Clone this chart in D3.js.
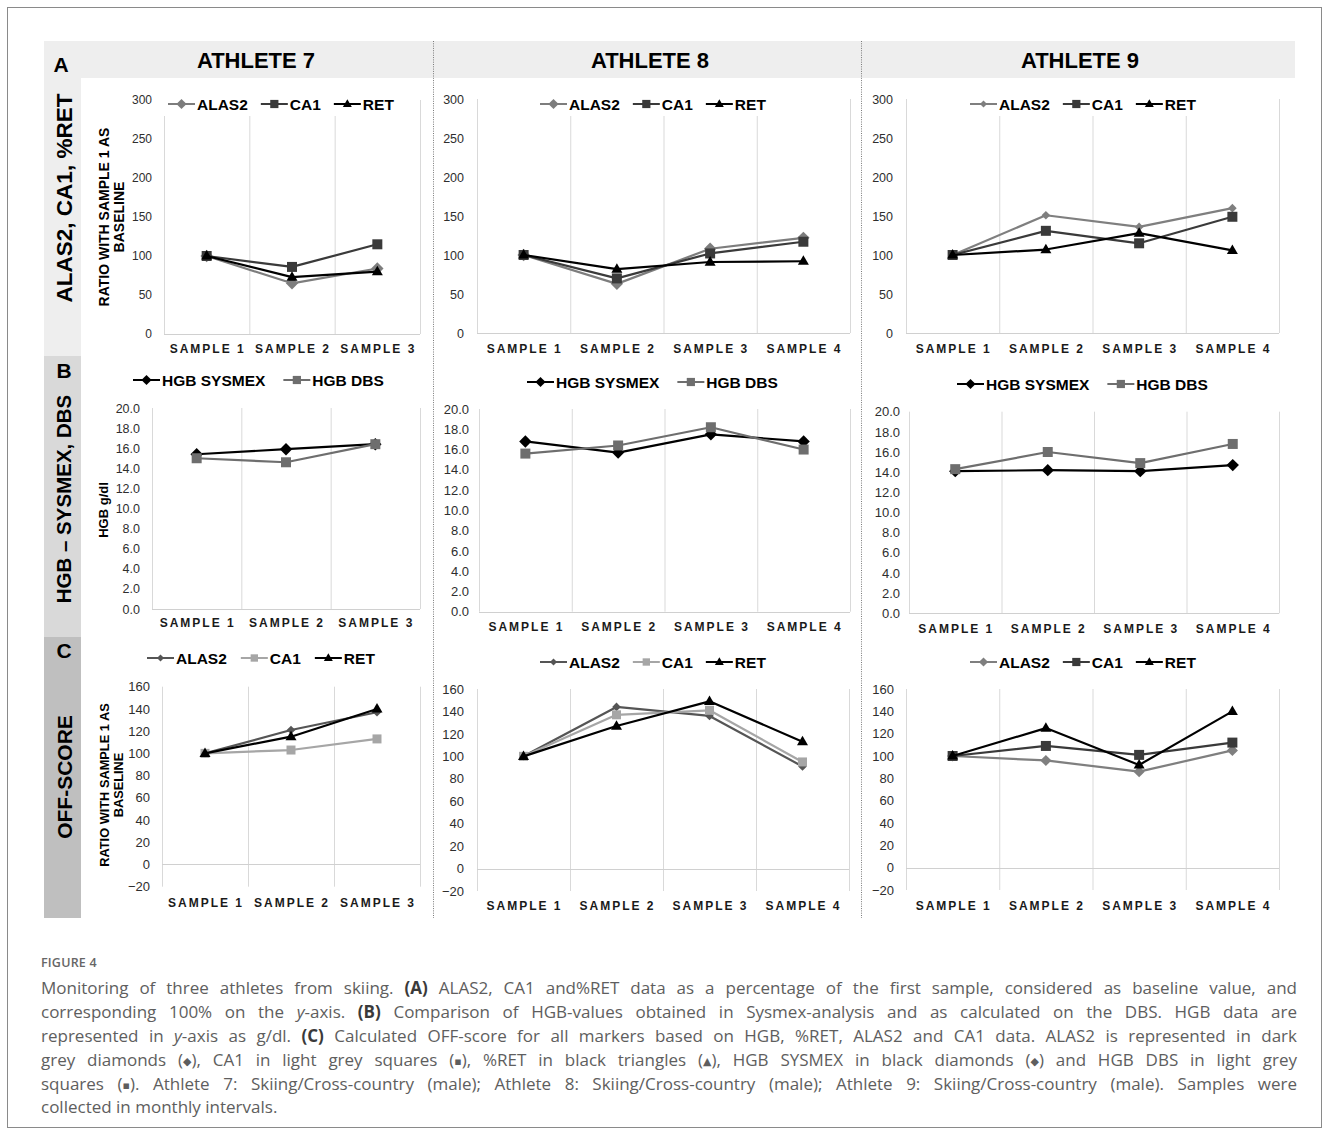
<!DOCTYPE html>
<html><head><meta charset="utf-8">
<script src="https://cdn.jsdelivr.net/npm/d3@7"></script>
<style>
body{margin:0;background:#fff;}
#wrap{position:relative;width:1329px;height:1135px;overflow:hidden;}
#wrap svg{position:absolute;left:0;top:0;}
.capline{position:absolute;left:41px;width:1256px;height:24px;line-height:24px;font-family:"Open Sans",sans-serif;font-size:17px;color:#5e5e5e;text-align:justify;text-align-last:justify;}
.capline.last{text-align-last:left;}
.capline b{font-weight:700;color:#3a3a3a;}
.fig{position:absolute;left:41px;top:954px;font-family:"Open Sans",sans-serif;font-size:12.5px;font-weight:600;color:#666;letter-spacing:0.2px;}
.sym{display:inline-block;white-space:nowrap;}
.sym i{font-style:normal;font-family:"DejaVu Sans",sans-serif;font-size:11px;vertical-align:1px;}
</style>
</head><body><div id="wrap"></div>
<script>
// ---------- DATA ----------
const samples3 = ["SAMPLE 1","SAMPLE 2","SAMPLE 3"];
const samples4 = ["SAMPLE 1","SAMPLE 2","SAMPLE 3","SAMPLE 4"];
const athletes = ["ATHLETE 7","ATHLETE 8","ATHLETE 9"];
const rowLetters = ["A","B","C"];
const rowTitles = ["ALAS2, CA1, %RET","HGB \u2013 SYSMEX, DBS","OFF-SCORE"];
const ticksRatio = [0,50,100,150,200,250,300];
const ticksHgb = [0,2,4,6,8,10,12,14,16,18,20];
const ticksOff = [-20,0,20,40,60,80,100,120,140,160];
const legendA = ["ALAS2","CA1","RET"];
const legendB = ["HGB SYSMEX","HGB DBS"];

// Row A: ALAS2, CA1, %RET (ratio with sample 1 as baseline)
const a7_ALAS2 = [100,65,84];
const a7_CA1   = [100,86,115];
const a7_RET   = [100,73,80];
const a8_ALAS2 = [100,63,108,122];
const a8_CA1   = [100,70,102,117];
const a8_RET   = [100,82,91,92];
const a9_ALAS2 = [100,151,136,160];
const a9_CA1   = [100,131,115,149];
const a9_RET   = [100,107,128,106];
// Row B: HGB g/dl
const b7_SYSMEX = [15.4,15.9,16.4];
const b7_DBS    = [15.0,14.6,16.4];
const b8_SYSMEX = [16.8,15.7,17.5,16.8];
const b8_DBS    = [15.6,16.4,18.2,16.0];
const b9_SYSMEX = [14.1,14.2,14.1,14.7];
const b9_DBS    = [14.3,16.0,14.9,16.8];
// Row C: OFF-score
const c7_ALAS2 = [100,121,137];
const c7_CA1   = [100,103,113];
const c7_RET   = [100,115,140];
const c8_ALAS2 = [100,144,136,91];
const c8_CA1   = [100,137,141,95];
const c8_RET   = [100,127,149,113];
const c9_ALAS2 = [100,96,86,105];
const c9_CA1   = [100,109,101,112];
const c9_RET   = [100,125,92,140];

const DIA = '<span class="sym">(<i>\u25C6</i>)</span>';
const SQ  = '<span class="sym">(<i>\u25AA</i>)</span>';
const TRI = '<span class="sym">(<i>\u25B2</i>)</span>';
const captionLines = [
 'Monitoring of three athletes from skiing. <b>(A)</b> ALAS2, CA1 and%RET data as a percentage of the first sample, considered as baseline value, and',
 'corresponding 100% on the <i>y</i>-axis. <b>(B)</b> Comparison of HGB-values obtained in Sysmex-analysis and as calculated on the DBS. HGB data are',
 'represented in <i>y</i>-axis as g/dl. <b>(C)</b> Calculated OFF-score for all markers based on HGB, %RET, ALAS2 and CA1 data. ALAS2 is represented in dark',
 'grey diamonds ' + DIA + ', CA1 in light grey squares ' + SQ + ', %RET in black triangles ' + TRI + ', HGB SYSMEX in black diamonds ' + DIA + ' and HGB DBS in light grey',
 'squares ' + SQ + '. Athlete 7: Skiing/Cross-country (male); Athlete 8: Skiing/Cross-country (male); Athlete 9: Skiing/Cross-country (male). Samples were',
 'collected in monthly intervals.'
];

// ---------- STYLES / LAYOUT ----------
const ST = {
  alasA:   {color:"#7d7d7d", shape:"diamond", size:10},
  alasA9:  {color:"#7f7f7f", shape:"diamond", size:7},
  ca1Dark: {color:"#3a3a3a", shape:"square",  size:10},
  ret:     {color:"#000000", shape:"triangle",size:11},
  sysmex:  {color:"#000000", shape:"diamond", size:10},
  dbs:     {color:"#6e6e6e", shape:"square",  size:10},
  alasC:   {color:"#555555", shape:"diamond", size:7},
  alasC9:  {color:"#7f7f7f", shape:"diamond", size:9},
  ca1Light:{color:"#a6a6a6", shape:"square",  size:9}
};
const fmtInt = d => d3.format("d")(d);
const fmt1 = d => d3.format(".1f")(d);

const panels = [
 {cats:samples3, dom:[0,300], ticks:ticksRatio, fmt:fmtInt, names:legendA, vals:[a7_ALAS2,a7_CA1,a7_RET], st:[ST.alasA,ST.ca1Dark,ST.ret],
  x0:164,x1:420,yTop:100,yBot:334,tick:12,pad:12,xlabY:349,leg:[168,104],gap:13,
  ytitle:{lines:["RATIO WITH SAMPLE 1 AS","BASELINE"],x:[104,119],cy:217,size:14}},
 {cats:samples4, dom:[0,300], ticks:ticksRatio, fmt:fmtInt, names:legendA, vals:[a8_ALAS2,a8_CA1,a8_RET], st:[ST.alasA,ST.ca1Dark,ST.ret],
  x0:477,x1:850,yTop:99,yBot:333,tick:12.5,pad:13,xlabY:349,leg:[540,104],gap:13},
 {cats:samples4, dom:[0,300], ticks:ticksRatio, fmt:fmtInt, names:legendA, vals:[a9_ALAS2,a9_CA1,a9_RET], st:[ST.alasA9,ST.ca1Dark,ST.ret],
  x0:906,x1:1279,yTop:99,yBot:333,tick:12.5,pad:13,xlabY:349,leg:[970,104],gap:13},
 {cats:samples3, dom:[0,20], ticks:ticksHgb, fmt:fmt1, names:legendB, vals:[b7_SYSMEX,b7_DBS], st:[ST.sysmex,ST.dbs],
  x0:152,x1:420,yTop:408,yBot:609,tick:12.5,pad:12,xlabY:623,leg:[133,380],gap:18,
  ytitle:{lines:["HGB g/dl"],x:[103],cy:510,size:13}},
 {cats:samples4, dom:[0,20], ticks:ticksHgb, fmt:fmt1, names:legendB, vals:[b8_SYSMEX,b8_DBS], st:[ST.sysmex,ST.dbs],
  x0:479,x1:850,yTop:409,yBot:611.7,tick:13,pad:10,xlabY:626.7,leg:[527,382],gap:18},
 {cats:samples4, dom:[0,20], ticks:ticksHgb, fmt:fmt1, names:legendB, vals:[b9_SYSMEX,b9_DBS], st:[ST.sysmex,ST.dbs],
  x0:909,x1:1279,yTop:411.7,yBot:613.3,tick:13,pad:9,xlabY:629,leg:[957,384],gap:18},
 {cats:samples3, dom:[-20,160], ticks:ticksOff, fmt:fmtInt, names:legendA, vals:[c7_ALAS2,c7_CA1,c7_RET], st:[ST.alasC,ST.ca1Light,ST.ret],
  x0:162,x1:420,yTop:686.7,yBot:886.7,tick:13,pad:12,xlabY:903,leg:[147,658],gap:14,
  ytitle:{lines:["RATIO WITH SAMPLE 1 AS","BASELINE"],x:[104,118],cy:785,size:12.8}},
 {cats:samples4, dom:[-20,160], ticks:ticksOff, fmt:fmtInt, names:legendA, vals:[c8_ALAS2,c8_CA1,c8_RET], st:[ST.alasC,ST.ca1Light,ST.ret],
  x0:477,x1:849,yTop:689,yBot:891,tick:13,pad:13,xlabY:905.7,leg:[540,662],gap:13},
 {cats:samples4, dom:[-20,160], ticks:ticksOff, fmt:fmtInt, names:legendA, vals:[c9_ALAS2,c9_CA1,c9_RET], st:[ST.alasC9,ST.ca1Dark,ST.ret],
  x0:906,x1:1279,yTop:689,yBot:890,tick:13,pad:12,xlabY:905.7,leg:[970,662],gap:13}
];

const FONT = "'Liberation Sans', Arial, sans-serif";

function markerPath(shape, s){
  if(shape==="square"){const h=s/2;return `M${-h},${-h}H${h}V${h}H${-h}Z`;}
  if(shape==="diamond"){const r=s*0.62;return `M0,${-r}L${r},0L0,${r}L${-r},0Z`;}
  const h=s*0.866; return `M0,${-h*0.62}L${s/2},${h*0.38}L${-s/2},${h*0.38}Z`;
}

// ---------- DRAW ----------
const svg = d3.select("#wrap").append("svg").attr("width",1329).attr("height",1135);

svg.append("rect").attr("x",7.5).attr("y",7.5).attr("width",1314).attr("height",1120)
  .attr("fill","none").attr("stroke","#8a8a8a").attr("stroke-width",1);

// header band and left row bands
svg.append("rect").attr("x",44).attr("y",41).attr("width",1251).attr("height",37).attr("fill","#eeeeee");
const bandColors = ["#eeeeee","#d9d9d9","#bfbfbf"];
const bandY = [78,356,637,918];
bandColors.forEach((c,i)=>{
  svg.append("rect").attr("x",44).attr("y",bandY[i]).attr("width",37).attr("height",bandY[i+1]-bandY[i]).attr("fill",c);
});

// dotted dividers
[433.5,861.5].forEach(x=>{
  svg.append("line").attr("x1",x).attr("x2",x).attr("y1",41).attr("y2",918)
    .attr("stroke","#7a7a7a").attr("stroke-width",1).attr("stroke-dasharray","1,1.3");
});

// athlete titles
const titleX = [256,650,1080];
athletes.forEach((t,i)=>{
  svg.append("text").attr("x",titleX[i]).attr("y",68).attr("text-anchor","middle")
    .attr("font-family",FONT).attr("font-weight","bold").attr("font-size",22).attr("fill","#000").text(t);
});

// row letters
const letterPos = [[61,72],[64,378],[64,658]];
rowLetters.forEach((l,i)=>{
  svg.append("text").attr("x",letterPos[i][0]).attr("y",letterPos[i][1]).attr("text-anchor","middle")
    .attr("font-family",FONT).attr("font-weight","bold").attr("font-size",21).attr("fill","#000").text(l);
});

// row titles (rotated)
const rowTitleCY = [198,499,777];
const rowTitleSize = [22.5,20.5,21];
rowTitles.forEach((t,i)=>{
  svg.append("text").attr("transform",`translate(64,${rowTitleCY[i]}) rotate(-90)`)
    .attr("text-anchor","middle").attr("dy","0.36em")
    .attr("font-family",FONT).attr("font-weight","bold").attr("font-size",rowTitleSize[i]).attr("fill","#000").text(t);
});

panels.forEach(p=>{
  const g = svg.append("g");
  const x = d3.scaleBand().domain(p.cats).range([p.x0,p.x1]).padding(0);
  const y = d3.scaleLinear().domain(p.dom).range([p.yBot,p.yTop]);
  const cx = c => x(c) + x.bandwidth()/2;

  // vertical gridlines at category boundaries
  const edges = p.cats.map(c=>x(c)).concat([p.x1]);
  g.selectAll(".vg").data(edges).join("line")
    .attr("x1",d=>d+0.5).attr("x2",d=>d+0.5).attr("y1",y(p.dom[1])).attr("y2",y(p.dom[0]))
    .attr("stroke","#d9d9d9").attr("stroke-width",1);
  // zero axis line
  g.append("line").attr("x1",p.x0).attr("x2",p.x1).attr("y1",Math.round(y(0))+0.5).attr("y2",Math.round(y(0))+0.5)
    .attr("stroke","#d0d0d0").attr("stroke-width",1.2);

  // y axis
  const ya = g.append("g").attr("transform",`translate(${p.x0},0)`)
    .call(d3.axisLeft(y).tickValues(p.ticks).tickSize(0).tickPadding(p.pad).tickFormat(p.fmt));
  ya.select(".domain").remove();
  ya.selectAll("text").attr("font-family",FONT).attr("font-size",p.tick).attr("fill","#2e2e2e");

  // x axis labels
  const xa = g.append("g").attr("transform",`translate(0,${p.xlabY})`)
    .call(d3.axisBottom(x).tickSize(0).tickPadding(0));
  xa.select(".domain").remove();
  xa.selectAll("text").attr("y",0).attr("dy","0.36em").attr("dx",1)
    .attr("font-family",FONT).attr("font-weight","bold").attr("font-size",12)
    .attr("letter-spacing","2px").attr("fill","#1a1a1a");

  // y title
  if(p.ytitle){
    p.ytitle.lines.forEach((ln,i)=>{
      g.append("text").attr("transform",`translate(${p.ytitle.x[i]},${p.ytitle.cy}) rotate(-90)`)
        .attr("text-anchor","middle").attr("dy","0.36em")
        .attr("font-family",FONT).attr("font-weight","bold").attr("font-size",p.ytitle.size).attr("fill","#000").text(ln);
    });
  }

  // legend
  const lg = g.append("g");
  const bg = lg.append("rect").attr("fill","#fff");
  let lx = p.leg[0];
  const ly = p.leg[1];
  p.names.forEach((nm,i)=>{
    const st = p.st[i];
    lg.append("line").attr("x1",lx).attr("x2",lx+27).attr("y1",ly).attr("y2",ly)
      .attr("stroke",st.color).attr("stroke-width",2);
    lg.append("path").attr("d",markerPath(st.shape,st.size*0.82)).attr("transform",`translate(${lx+13.5},${ly})`)
      .attr("fill",st.color);
    const t = lg.append("text").attr("x",lx+29).attr("y",ly).attr("dy","0.36em")
      .attr("font-family",FONT).attr("font-weight","bold").attr("font-size",15.5).attr("fill","#000").text(nm);
    const w = t.node().getComputedTextLength();
    lx = lx + 29 + w + p.gap;
  });
  bg.attr("x",p.leg[0]-6).attr("y",ly-12).attr("width",lx-p.gap-p.leg[0]+12).attr("height",24);

  // series
  p.vals.forEach((vals,si)=>{
    const st = p.st[si];
    const line = d3.line().x((d,i)=>cx(p.cats[i])).y(d=>y(d));
    g.append("path").datum(vals).attr("d",line).attr("fill","none")
      .attr("stroke",st.color).attr("stroke-width",2.2).attr("stroke-linejoin","round");
    g.selectAll(null).data(vals).join("path")
      .attr("d",markerPath(st.shape,st.size))
      .attr("transform",(d,i)=>`translate(${cx(p.cats[i])},${y(d)})`)
      .attr("fill",st.color);
  });
});

// caption (HTML)
const wrap = d3.select("#wrap");
wrap.append("div").attr("class","fig").text("FIGURE 4");
const capCY = [988,1012,1036,1060,1084,1107];
captionLines.forEach((l,i)=>{
  wrap.append("div").attr("class","capline"+(i===captionLines.length-1?" last":""))
    .style("top",(capCY[i]-12)+"px").html(l);
});
</script>
</body></html>
